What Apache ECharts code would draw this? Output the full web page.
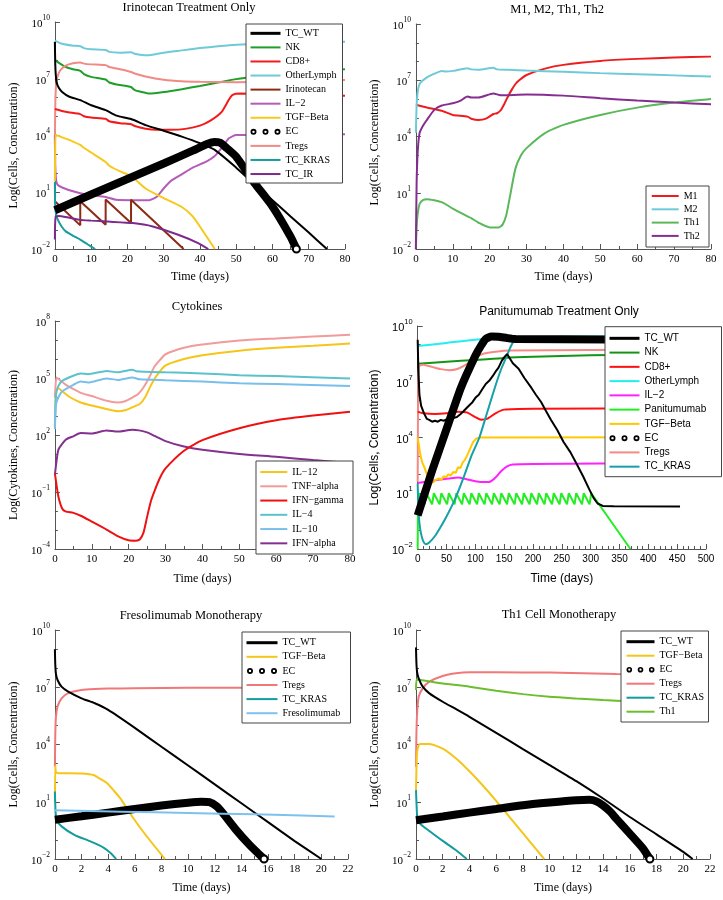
<!DOCTYPE html>
<html>
<head>
<meta charset="utf-8">
<script src="https://cdn.jsdelivr.net/npm/echarts@6/dist/echarts.min.js"></script>
<style>
  body { margin: 0; background: #fff; }
  .panel { position: absolute; }
</style>
</head>
<body>
<div id="p1" class="panel" style="left:0;top:0;width:361px;height:290px"></div>
<div id="p2" class="panel" style="left:361px;top:0;width:362px;height:290px"></div>
<div id="p3" class="panel" style="left:0;top:290px;width:361px;height:300px"></div>
<div id="p4" class="panel" style="left:361px;top:290px;width:362px;height:300px"></div>
<div id="p5" class="panel" style="left:0;top:590px;width:361px;height:310px"></div>
<div id="p6" class="panel" style="left:361px;top:590px;width:362px;height:310px"></div>
<script>
// all values are [time in days, log10(value)]

// --- Irinotecan Treatment Only
const irTCWT = [[0,8.95],[0.1,7.8],[0.25,7.2],[0.5,6.8],[1,6.55],[2,6.3],[4,6.05],[7,5.87],[10,5.6],[14,5.34],[17,5.05],[21,4.87],[25,4.55],[30,4.25],[35,3.94],[40,3.59],[44,3.25],[50,2.3],[55,1.43],[60,0.58],[65,-0.28],[70,-1.13],[75,-2]];
const irNK = [[0,8.0],[1,7.85],[3,7.62],[5,7.5],[7,7.42],[8,7.25],[10,7.1],[14,6.96],[15,6.8],[17,6.7],[21,6.56],[22,6.4],[24,6.3],[26,6.22],[30,6.3],[35,6.45],[40,6.62],[45,6.8],[50,6.98],[55,7.12],[60,7.25],[70,7.4],[80,7.5]];
const irCD8 = [[0,5.4],[3,5.25],[7,5.13],[8,5.02],[10,4.95],[14,4.88],[15,4.75],[18,4.65],[21,4.6],[22,4.5],[25,4.36],[28,4.3],[32,4.3],[36,4.35],[40,4.52],[43,4.8],[46,5.25],[48,5.9],[49,6.15],[51,6.22],[60,6.2],[70,6.15],[80,6.1]];
const irOther = [[0,9.02],[2,8.85],[5,8.75],[7,8.72],[8,8.62],[10,8.56],[14,8.52],[15,8.42],[18,8.38],[21,8.4],[22,8.32],[24,8.25],[26,8.24],[30,8.38],[35,8.5],[40,8.62],[45,8.72],[50,8.8],[60,8.87],[70,8.92],[80,8.96]];
const irIrino = [[0,0.52],[7,-0.75],[7,0.52],[14,-0.72],[14,0.62],[21,-0.62],[21,0.6],[35.5,-2]];
const irIL2 = [[0,4.0],[0.1,2.5],[0.3,1.7],[0.7,1.4],[2,1.25],[5,1.05],[7,0.95],[10,0.85],[14,0.75],[17,0.6],[21,0.58],[26,0.58],[28,0.75],[30,1.2],[32,1.6],[35,1.95],[38,2.3],[42,2.65],[44,2.9],[46,3.35],[48,3.85],[50,4.02],[60,4.04],[80,4.06]];
const irTGF = [[0,1.6],[0.1,3.5],[0.3,4.02],[2,3.9],[5,3.68],[7,3.5],[8,3.35],[10,3.1],[14,2.6],[15,2.4],[18,2.1],[21,1.86],[25,1.2],[30,0.69],[35,0.22],[38,-0.28],[41,-1.1],[44.1,-2]];
const irEC = [[0,0.05],[10,0.88],[20,1.7],[30,2.52],[38,3.2],[42,3.55],[44,3.66],[45.5,3.62],[47,3.4],[50,2.88],[55,1.5],[60,0.25],[65,-1.35],[66.6,-2]];
const irTregs = [[0,3.5],[0.1,5.5],[0.3,6.6],[0.7,7.1],[1.5,7.45],[3,7.7],[5,7.82],[7,7.86],[8,7.8],[10,7.76],[14,7.72],[15,7.62],[18,7.5],[21,7.36],[22,7.28],[25,7.12],[30,6.95],[35,6.87],[40,6.84],[50,6.82],[60,6.84],[70,6.88],[80,6.93]];
const irKRAS = [[0,1.56],[0.05,0.5],[0.2,0],[0.6,-0.35],[1.2,-0.6],[2,-0.85],[3,-1.07],[5,-1.3],[7,-1.5],[9,-1.75],[11.1,-2]];
const irTCIR = [[0,-1.5],[0.2,-0.3],[1,-0.25],[4,-0.35],[7,-0.46],[10,-0.5],[14.5,-0.55],[21.5,-0.63],[27,-0.81],[34,-1.25],[39.5,-1.69],[42.3,-2]];

// --- M1, M2, Th1, Th2
const mM1 = [[0,5.69],[3,5.55],[7,5.37],[8,5.3],[10,5.15],[14,5.06],[15,4.95],[17,4.88],[19,4.95],[21,5.2],[22,5.24],[23,5.4],[24,5.75],[25,6.15],[26,6.5],[27,6.8],[28,7.0],[30,7.28],[35,7.62],[40,7.82],[50,8.03],[60,8.14],[70,8.21],[80,8.26]];
const mM2 = [[0,4.2],[0.3,6.0],[1,6.8],[3,7.15],[5,7.35],[7,7.5],[8,7.47],[10,7.5],[14,7.64],[15,7.58],[17,7.56],[21,7.67],[22,7.58],[25,7.56],[30,7.52],[40,7.45],[50,7.38],[60,7.32],[70,7.26],[80,7.2]];
const mTh1 = [[0,-2],[0.3,-0.5],[1,0.4],[2,0.62],[3,0.66],[5,0.6],[7,0.5],[8,0.4],[10,0.15],[14,-0.26],[15,-0.35],[17,-0.6],[20,-0.85],[22.5,-0.85],[23.5,-0.7],[24.5,-0.2],[25.5,0.8],[27,2.3],[28.5,3.0],[30,3.38],[35,4.18],[40,4.62],[50,5.15],[60,5.54],[70,5.81],[80,6.0]];
const mTh2 = [[0,-2],[0.2,1.5],[0.5,3.2],[1,4.18],[2,4.6],[3,4.89],[5,5.42],[7,5.65],[10,5.77],[12,5.9],[14,6.13],[15,6.08],[17,6.08],[21,6.29],[23,6.2],[30,6.24],[40,6.18],[50,6.04],[60,5.92],[70,5.81],[80,5.72]];

// --- Cytokines
const cIL12 = [[0,2.44],[0.3,4.3],[0.8,4.47],[2,4.3],[4,4.0],[7,3.71],[10,3.55],[14,3.37],[17,3.25],[19,3.3],[21,3.46],[23,3.63],[24.5,4.0],[26,4.6],[27.5,5.1],[30,5.66],[35,6.0],[40,6.2],[50,6.44],[60,6.59],[70,6.7],[80,6.81]];
const cTNF = [[0,3.97],[0.4,5.03],[1,4.95],[3,4.64],[5,4.42],[7,4.22],[10,4.05],[14,3.8],[17,3.71],[19,3.78],[21,3.97],[22.5,4.14],[24,4.5],[25.5,5.0],[27,5.6],[28.5,5.95],[30,6.25],[35,6.59],[40,6.76],[50,6.97],[60,7.08],[70,7.18],[80,7.27]];
const cIFNg = [[0,-0.02],[0.5,-0.7],[1,-1.29],[2,-1.88],[3,-2.03],[5,-2.1],[7,-2.25],[10,-2.56],[14,-2.98],[17,-3.32],[20,-3.54],[22,-3.56],[23,-3.5],[24,-3.15],[25,-2.31],[26,-1.5],[27,-0.95],[28.5,-0.25],[30,0.24],[35,1.17],[40,1.73],[50,2.36],[60,2.78],[70,3.03],[80,3.22]];
const cIL4 = [[0,2.44],[0.3,4.14],[1,4.6],[2,4.85],[5,5.12],[7,5.24],[9,5.2],[14,5.37],[17,5.3],[21,5.44],[22,5.36],[30,5.3],[40,5.24],[50,5.15],[60,5.1],[80,4.97]];
const cIL10 = [[0,2.3],[0.3,3.6],[1,4.0],[2,4.3],[5,4.64],[7,4.81],[9,4.76],[14,4.98],[17,4.9],[21,5.03],[23,4.93],[30,4.88],[40,4.81],[50,4.73],[60,4.68],[80,4.58]];
const cIFNa = [[0,-0.1],[0.5,0.7],[1,1.25],[3,1.76],[5,1.93],[7,2.1],[10,2.08],[14,2.24],[17,2.18],[21,2.27],[25,2.14],[27,1.95],[30,1.68],[35,1.39],[40,1.22],[50,1.0],[60,0.85],[70,0.68],[80,0.53]];

// --- Panitumumab Treatment Only
const pTCWT = [[0,9.26],[1,7.8],[3,6.3],[6,5.7],[11,5.3],[16,5.0],[20,4.95],[25,4.85],[30,4.9],[35,4.85],[40,4.95],[45,4.9],[51,4.98],[57,4.95],[62,5.05],[68,5.1],[74,5.25],[79,5.4],[84,5.56],[90,5.75],[95,5.9],[101,6.17],[106,6.3],[112,6.6],[118,6.88],[124,7.05],[130,7.3],[135,7.54],[140,7.75],[146,8.14],[151,8.35],[155,8.49],[158,8.4],[165,8.0],[175,7.7],[185,7.2],[197,6.68],[205,6.3],[214,5.91],[222,5.45],[231,4.96],[242,4.4],[253,3.76],[265,3.2],[276,2.56],[287,1.9],[298,1.18],[305,0.75],[312,0.45],[321,0.32],[340,0.3],[455,0.29]];
const pNK = [[0,7.97],[50,8.08],[100,8.17],[150,8.28],[200,8.34],[300,8.42],[450,8.48]];
const pCD8 = [[0,5.39],[10,5.3],[30,5.26],[50,5.3],[70,5.39],[85,5.35],[100,5.1],[110,4.96],[120,5.0],[135,5.3],[150,5.5],[200,5.55],[450,5.56]];
const pOther = [[0,8.92],[50,9.09],[100,9.26],[150,9.35],[200,9.4],[330,9.43],[450,9.44]];
const pIL2 = [[0,1.55],[15,1.62],[35,1.72],[55,1.8],[70,1.85],[85,1.75],[100,1.65],[115,1.6],[125,1.62],[135,1.85],[145,2.2],[155,2.45],[165,2.55],[200,2.58],[450,2.62]];
const pPani = [[0,-2],[0.5,0.5],[2,1.0],[12,0.4],[15,1.0],[25,0.4],[28,1.0],[38,0.4],[41,1.0],[51,0.4],[54,1.0],[64,0.4],[67,1.0],[77,0.4],[80,1.0],[90,0.4],[93,1.0],[103,0.4],[106,1.0],[116,0.4],[119,1.0],[129,0.4],[132,1.0],[142,0.4],[145,1.0],[155,0.4],[158,1.0],[168,0.4],[171,1.0],[181,0.4],[184,1.0],[194,0.4],[197,1.0],[207,0.4],[210,1.0],[220,0.4],[223,1.0],[233,0.4],[236,1.0],[246,0.4],[249,1.0],[259,0.4],[262,1.0],[272,0.4],[275,1.0],[285,0.4],[288,1.0],[298,0.4],[301,1.0],[369,-2]];
const pTGF = [[0,4.0],[2,3.6],[5,3.0],[8,2.65],[11,2.45],[15,2.1],[19,1.8],[23,1.6],[27,1.58],[30,1.7],[33,1.6],[37,1.8],[41,1.72],[45,1.92],[49,1.85],[53,2.02],[57,1.95],[62,2.15],[66,2.1],[70,2.4],[74,2.35],[78,2.65],[82,2.8],[86,3.05],[91,3.4],[96,3.75],[101,3.93],[108,4.0],[450,4.01]];
const pEC = [[0,-0.19],[25,2.21],[50,4.45],[75,6.68],[100,8.4],[110,8.95],[118,9.3],[128,9.43],[140,9.42],[155,9.35],[170,9.3],[330,9.28],[450,9.28]];
const pTregs = [[0,1.6],[1,7.2],[3,7.85],[10,7.92],[25,7.8],[40,7.68],[55,7.62],[70,7.7],[85,7.95],[100,8.3],[115,8.52],[135,8.62],[160,8.68],[450,8.73]];
const pKRAS = [[0,1.52],[1,0.4],[3,-0.6],[6,-1.2],[10,-1.6],[14,-1.74],[20,-1.65],[30,-1.3],[40,-0.8],[50,-0.25],[65,0.7],[79,1.8],[93,3.0],[107,4.0],[121,5.4],[135,6.8],[145,7.7],[152,8.2],[160,8.8],[166,9.15],[175,9.27],[200,9.3],[450,9.32]];

// --- Fresolimumab Monotherapy
const fTCWT = [[0,8.99],[0.03,8.2],[0.08,7.7],[0.2,7.38],[0.5,7.03],[1,6.77],[2,6.42],[3,6.16],[4,5.81],[6,4.87],[8,3.88],[10,2.9],[12,1.91],[14,0.92],[16,-0.07],[18,-1.06],[20,-2]];
const fTGF = [[0,1.0],[0.03,2.9],[0.08,2.55],[0.3,2.5],[1,2.5],[2,2.48],[2.9,2.4],[3.4,2.2],[3.9,1.98],[4.4,1.6],[4.9,1.19],[5.8,0.23],[6.8,-0.73],[8.26,-2]];
const fEC = [[0,0.06],[2,0.24],[4,0.43],[6,0.62],[8,0.8],[10,0.95],[11,1.0],[11.6,0.98],[12.15,0.76],[12.6,0.41],[13.6,-0.47],[14.6,-1.25],[15.7,-2]];
const fTregs = [[0,2.85],[0.03,4.5],[0.08,5.46],[0.2,6.0],[0.5,6.42],[1,6.69],[2,6.86],[3,6.91],[4,6.93],[6,6.95],[10,6.97],[14,6.98],[21,7.0]];
const fKRAS = [[0,1.54],[0.05,0.5],[0.12,0.06],[0.5,-0.29],[1.46,-0.73],[2.67,-1.08],[3.65,-1.4],[4.2,-1.7],[4.6,-2]];
const fFreso = [[0,0.55],[5,0.48],[10,0.41],[15,0.34],[21,0.23]];

// --- Th1 Cell Monotherapy
const tTCWT = [[0,9.09],[0.03,8.3],[0.08,7.8],[0.2,7.46],[0.5,7.03],[1,6.68],[2,6.24],[3,5.85],[4,5.45],[6,4.61],[8,3.76],[10,2.92],[12,2.08],[14,1.17],[16,0.2],[18,-0.71],[20,-1.63],[20.7,-2]];
const tTGF = [[0,1.6],[0.05,3.2],[0.1,3.7],[0.3,4.02],[1,4.02],[2,3.79],[3,3.27],[4,2.6],[5,1.85],[6,1.05],[7,0.2],[8,-0.65],[9,-1.5],[9.6,-2]];
const tEC = [[0,0.03],[2,0.23],[4,0.43],[6,0.62],[8,0.82],[10,0.96],[12,1.08],[13,1.1],[13.5,1.02],[14,0.8],[14.5,0.5],[15,0.1],[16,-0.67],[17,-1.46],[17.5,-2]];
const tTregs = [[0,2.83],[0.03,4.5],[0.08,5.6],[0.2,6.5],[0.5,6.94],[1,7.29],[2,7.59],[3,7.73],[4,7.78],[6,7.78],[10,7.77],[15,7.69],[21,7.64]];
const tKRAS = [[0,1.6],[0.05,0.7],[0.1,0.2],[0.3,-0.15],[1,-0.53],[2,-1.05],[3,-1.54],[3.8,-2]];
const tTh1 = [[0,6.85],[0.05,7.41],[2,7.2],[4,7.03],[6,6.82],[8,6.64],[10,6.5],[12,6.41],[14,6.33],[16,6.26],[21,6.12]];

const SERIF = 'Liberation Serif';
const SANS = 'Liberation Sans';

// three open rings for the EC legend entry
const EC_ICON = 'path://M0,3A3,3 0 1,1 6,3A3,3 0 1,1 0,3Z M1.8,3A1.2,1.2 0 1,0 4.2,3A1.2,1.2 0 1,0 1.8,3Z' +
  'M12,3A3,3 0 1,1 18,3A3,3 0 1,1 12,3Z M13.8,3A1.2,1.2 0 1,0 16.2,3A1.2,1.2 0 1,0 13.8,3Z' +
  'M24,3A3,3 0 1,1 30,3A3,3 0 1,1 24,3Z M25.8,3A1.2,1.2 0 1,0 28.2,3A1.2,1.2 0 1,0 25.8,3Z';

const measureCtx = document.createElement('canvas').getContext('2d');
function textWidth(str, fs, ff) {
  measureCtx.font = fs + 'px "' + ff + '"';
  return measureCtx.measureText(str).width;
}

function powLabel(v) {
  return '{b|10}{s|' + (v < 0 ? '\u2212' + (-v) : v) + '}';
}

function makePanel(id, p) {
  const chart = echarts.init(document.getElementById(id));
  const ff = p.font;
  const axisColor = '#555';
  const common = {
    type: 'value',
    axisLine: { onZero: false, lineStyle: { color: axisColor, width: 1 } },
    axisTick: { inside: true, length: 5, lineStyle: { color: axisColor } },
    minorTick: { show: true, length: 3, lineStyle: { color: axisColor } },
    splitLine: { show: false },
    nameLocation: 'middle'
  };
  const series = p.series.map(s => {
    let data = s.data;
    if (s.end) {
      data = s.data.slice(0, -1).concat([{
        value: s.data[s.data.length - 1],
        symbol: 'emptyCircle', symbolSize: 7,
        itemStyle: { color: '#000', borderWidth: 2 }
      }]);
    }
    return {
      type: 'line', name: s.name, data: data,
      symbol: 'none', showSymbol: !!s.end,
      smooth: s.smooth === undefined ? 0.2 : s.smooth,
      lineStyle: { color: s.color, width: s.w || 2 },
      itemStyle: { color: s.color },
      clip: !s.end, silent: true
    };
  });

  // legend box: drawn by the legend itself so it sits above the lines
  const lg = p.legend;
  const names = p.order;
  const maxW = Math.max.apply(null, names.map(n => textWidth(n, lg.fs, ff)));
  const padL = lg.ix - lg.box[0];
  const padT = lg.ty - lg.box[1];
  const padB = lg.box[1] + lg.box[3] - (lg.ty + names.length * lg.lh);
  const padR = Math.max(0, lg.box[2] - padL - (lg.iw + 5 + maxW));

  chart.setOption({
    animation: false,
    grid: { left: p.grid[0], top: p.grid[1], width: p.grid[2], height: p.grid[3] },
    xAxis: Object.assign({}, common, {
      min: p.x[0], max: p.x[1], interval: p.x[2],
      minorTick: Object.assign({}, common.minorTick, { splitNumber: p.x[3] }),
      axisLabel: { fontFamily: ff, fontSize: p.tickSize, color: '#000', margin: 5 },
      name: 'Time (days)', nameGap: p.xGap,
      nameTextStyle: { fontFamily: ff, fontSize: 12, color: '#000' }
    }),
    yAxis: Object.assign({}, common, {
      min: p.y[0], max: p.y[1], interval: 3,
      minorTick: Object.assign({}, common.minorTick, { splitNumber: 3 }),
      axisLabel: {
        formatter: powLabel, margin: 5, color: '#000',
        rich: {
          b: { fontFamily: ff, fontSize: 11, color: '#000', padding: [4, 0, 0, 0] },
          s: { fontFamily: ff, fontSize: 7.5, color: '#000', padding: [0, 0, 8, 0] }
        }
      },
      name: p.yName, nameGap: p.yGap,
      nameTextStyle: { fontFamily: ff, fontSize: 12, color: '#000', padding: [0, p.yShift * 2, 0, 0] }
    }),
    legend: {
      orient: 'vertical', left: lg.box[0], top: lg.box[1],
      padding: [padT, padR, padB, padL],
      backgroundColor: '#fff', borderColor: '#444', borderWidth: 1,
      itemGap: 0, itemWidth: lg.iw, itemHeight: 6, selectedMode: false,
      lineStyle: { width: 2 },
      itemStyle: { opacity: 0 },
      textStyle: { fontFamily: ff, fontSize: lg.fs, color: '#000', lineHeight: lg.lh },
      data: names.map(n => {
        if (n === 'EC') return { name: 'EC', icon: EC_ICON, itemStyle: { opacity: 1, color: '#000' } };
        if (n === 'TC_WT') return { name: n, lineStyle: { width: 3 } };
        return n;
      })
    },
    graphic: [
      { type: 'text', x: p.title[1], y: p.title[2],
        style: { text: p.title[0], fontFamily: ff, fontSize: p.title[3], fill: '#000', align: 'center', verticalAlign: 'middle' } }
    ],
    series: series
  });
}

makePanel('p1', {
  font: SERIF, tickSize: 11, grid: [46, 22, 299, 227], x: [0, 80, 10, 2], y: [-2, 10],
  xGap: 22, yGap: 27, yShift: 10, yName: 'Log(Cells, Concentration)',
  title: ['Irinotecan Treatment Only', 189, 8, 12.5],
  legend: { ix: 249, ty: 26.3, lh: 14.07, iw: 30, fs: 10, box: [246, 24, 95, 159] },
  order: ['TC_WT', 'NK', 'CD8+', 'OtherLymph', 'Irinotecan', 'IL\u22122', 'TGF\u2212Beta', 'EC', 'Tregs', 'TC_KRAS', 'TC_IR'],
  series: [
    { name: 'OtherLymph', data: irOther, color: '#6FCAD8' },
    { name: 'NK', data: irNK, color: '#1F9F2A' },
    { name: 'Tregs', data: irTregs, color: '#F08A84' },
    { name: 'CD8+', data: irCD8, color: '#F21A1A' },
    { name: 'IL\u22122', data: irIL2, color: '#B45CB8' },
    { name: 'TGF\u2212Beta', data: irTGF, color: '#F7C81E' },
    { name: 'Irinotecan', data: irIrino, color: '#8B2B14', smooth: false },
    { name: 'TC_KRAS', data: irKRAS, color: '#199C9C' },
    { name: 'TC_IR', data: irTCIR, color: '#7D2B8B' },
    { name: 'TC_WT', data: irTCWT, color: '#000' },
    { name: 'EC', data: irEC, color: '#000', w: 8, end: true }
  ]
});

makePanel('p2', {
  font: SERIF, tickSize: 11, grid: [50, 24, 300, 225], x: [0, 80, 10, 2], y: [-2, 10],
  xGap: 22, yGap: 27, yShift: 6, yName: 'Log(Cells, Concentration)',
  title: ['M1, M2, Th1, Th2', 196, 10, 12.5],
  legend: { ix: 289.7, ty: 189.35, lh: 13.3, iw: 27, fs: 10, box: [285, 186, 62, 61] },
  order: ['M1', 'M2', 'Th1', 'Th2'],
  series: [
    { name: 'M1', data: mM1, color: '#EE1C1C' },
    { name: 'M2', data: mM2, color: '#6FCAD8' },
    { name: 'Th1', data: mTh1, color: '#5BB85A' },
    { name: 'Th2', data: mTh2, color: '#862E90' }
  ]
});

makePanel('p3', {
  font: SERIF, tickSize: 11, grid: [48, 31, 302, 236], x: [0, 80, 10, 2], y: [-4, 8],
  xGap: 24, yGap: 26, yShift: 10, yName: 'Log(Cytokines, Concentration)',
  title: ['Cytokines', 197, 17, 12.5],
  legend: { ix: 259.3, ty: 174.9, lh: 14.26, iw: 27, fs: 10, box: [256, 171, 96, 93] },
  order: ['IL\u221212', 'TNF\u2212alpha', 'IFN\u2212gamma', 'IL\u22124', 'IL\u221210', 'IFN\u2212alpha'],
  series: [
    { name: 'IL\u221212', data: cIL12, color: '#F5C518' },
    { name: 'TNF\u2212alpha', data: cTNF, color: '#F29B9B' },
    { name: 'IL\u22124', data: cIL4, color: '#5BC2CA' },
    { name: 'IL\u221210', data: cIL10, color: '#7ABFEA' },
    { name: 'IFN\u2212alpha', data: cIFNa, color: '#84308E' },
    { name: 'IFN\u2212gamma', data: cIFNg, color: '#EE1111' }
  ]
});

makePanel('p4', {
  font: SANS, tickSize: 10, grid: [49, 36, 296, 232], x: [0, 500, 50, 5], y: [-2, 10],
  xGap: 24, yGap: 27, yShift: 0, yName: 'Log(Cells, Concentration)',
  title: ['Panitumumab Treatment Only', 198, 22, 12],
  legend: { ix: 247, ty: 41.2, lh: 14.26, iw: 30, fs: 10, box: [244, 36.7, 115, 150] },
  order: ['TC_WT', 'NK', 'CD8+', 'OtherLymph', 'IL\u22122', 'Panitumumab', 'TGF\u2212Beta', 'EC', 'Tregs', 'TC_KRAS'],
  series: [
    { name: 'OtherLymph', data: pOther, color: '#22EEF0' },
    { name: 'NK', data: pNK, color: '#149414' },
    { name: 'Tregs', data: pTregs, color: '#F58A84' },
    { name: 'CD8+', data: pCD8, color: '#FF1010' },
    { name: 'IL\u22122', data: pIL2, color: '#FF22FF' },
    { name: 'TGF\u2212Beta', data: pTGF, color: '#FFC800', smooth: false },
    { name: 'Panitumumab', data: pPani, color: '#22EE22', smooth: false },
    { name: 'TC_KRAS', data: pKRAS, color: '#16A0A8' },
    { name: 'TC_WT', data: pTCWT, color: '#000', smooth: false },
    { name: 'EC', data: pEC, color: '#000', w: 8 }
  ]
});

makePanel('p5', {
  font: SERIF, tickSize: 11, grid: [47, 40, 301, 229], x: [0, 22, 2, 2], y: [-2, 10],
  xGap: 23, yGap: 21, yShift: 0, yName: 'Log(Cells, Concentration)',
  title: ['Fresolimumab Monotherapy', 191, 26, 12.5],
  legend: { ix: 245, ty: 45.65, lh: 14.1, iw: 31, fs: 10, box: [242, 42, 107, 91] },
  order: ['TC_WT', 'TGF\u2212Beta', 'EC', 'Tregs', 'TC_KRAS', 'Fresolimumab'],
  series: [
    { name: 'Tregs', data: fTregs, color: '#F07878' },
    { name: 'TGF\u2212Beta', data: fTGF, color: '#F5C518' },
    { name: 'TC_KRAS', data: fKRAS, color: '#149C9C' },
    { name: 'TC_WT', data: fTCWT, color: '#000' },
    { name: 'EC', data: fEC, color: '#000', w: 8, end: true },
    { name: 'Fresolimumab', data: fFreso, color: '#7DC2EE' }
  ]
});

makePanel('p6', {
  font: SERIF, tickSize: 11, grid: [55, 40, 294, 229], x: [0, 22, 2, 2], y: [-2, 10],
  xGap: 23, yGap: 24, yShift: 0, yName: 'Log(Cells, Concentration)',
  title: ['Th1 Cell Monotherapy', 198, 25, 12.5],
  legend: { ix: 264, ty: 44.7, lh: 14, iw: 28, fs: 10, box: [260, 41, 86, 91] },
  order: ['TC_WT', 'TGF\u2212Beta', 'EC', 'Tregs', 'TC_KRAS', 'Th1'],
  series: [
    { name: 'Tregs', data: tTregs, color: '#F07878' },
    { name: 'Th1', data: tTh1, color: '#6BBE2E' },
    { name: 'TGF\u2212Beta', data: tTGF, color: '#F5C518' },
    { name: 'TC_KRAS', data: tKRAS, color: '#149C9C' },
    { name: 'TC_WT', data: tTCWT, color: '#000' },
    { name: 'EC', data: tEC, color: '#000', w: 8, end: true }
  ]
});
</script>
</body>
</html>
